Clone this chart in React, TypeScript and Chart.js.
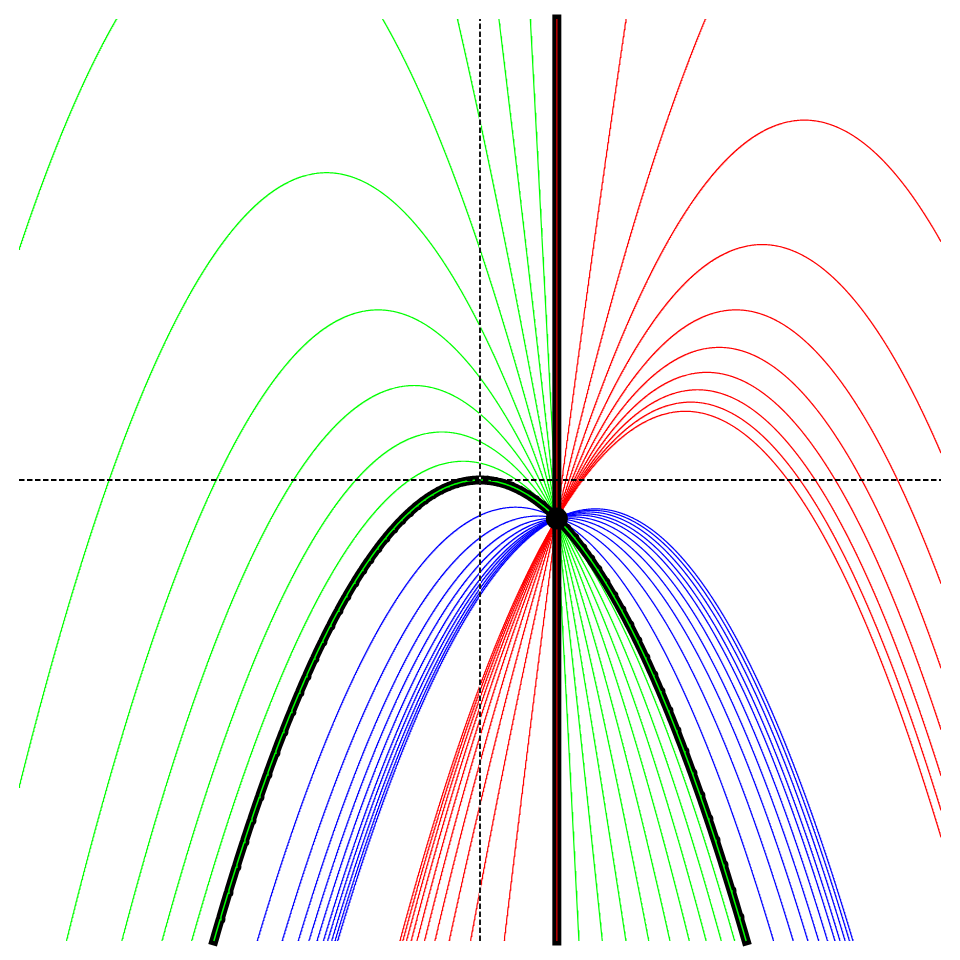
import React, { useEffect, useRef } from "react";
import { Chart, registerables } from "chart.js";

Chart.register(...registerables);

// Axis ranges
const X_RANGE = [-3, 3];
const Y_RANGE = [-3, 3];

// Common point through which every parabola passes
const POINT_X = [0.5];
const POINT_Y = [-0.25];

// Linear coefficient b of each parabola  y = -x^2 + b (x - 0.5)
const GREEN_B = [-18, -8, -4.67, -3, -2, -1.33, -0.86, -0.5, -0.22];
const BLUE_B = [0.46, 0.75, 0.95, 1.09, 1.2, 1.29, 1.35, 1.41, 1.46, 1.5];
const RED_B = [8.67, 5.33, 4.22, 3.67, 3.33, 3.11, 2.95, 2.83, 2.74, 2.67];
const HIGHLIGHT_B = [0];

const GREEN = "#00ff00";
const BLUE = "#0000ff";
const RED = "#ff0000";

function parabola(b: number, x: number) {
  const px = POINT_X[0];
  const py = POINT_Y[0];
  return -x * x + px * px + py + b * (x - px);
}

function sample(b: number, x0: number, x1: number, n: number) {
  const pts: { x: number; y: number }[] = [];
  for (let i = 0; i <= n; i++) {
    const x = x0 + ((x1 - x0) * i) / n;
    pts.push({ x, y: parabola(b, x) });
  }
  return pts;
}

export default function App() {
  const ref = useRef<HTMLCanvasElement | null>(null);

  useEffect(() => {
    if (!ref.current) return;
    const thin = (b: number, color: string) => ({
      data: sample(b, X_RANGE[0], X_RANGE[1], 1800),
      borderColor: color,
      borderWidth: 1.2,
      showLine: true,
      pointRadius: 0,
      tension: 0,
    });

    const drawOrder: any[] = [];
    GREEN_B.forEach((b) => drawOrder.push(thin(b, GREEN)));
    BLUE_B.forEach((b) => drawOrder.push(thin(b, BLUE)));
    RED_B.forEach((b) => drawOrder.push(thin(b, RED)));

    // highlighted parabola, limited to where it stays above the bottom of the frame
    HIGHLIGHT_B.forEach((b) => {
      const px = POINT_X[0];
      const c = px * px + POINT_Y[0] - b * px; // constant term
      const disc = Math.sqrt(b * b + 4 * (c - Y_RANGE[0]));
      const xa = (b - disc) / 2;
      const xb = (b + disc) / 2;
      const pts = sample(b, xa, xb, 600);
      drawOrder.push({
        data: pts,
        borderColor: "#000000",
        borderWidth: 9,
        borderCapStyle: "square",
        borderJoinStyle: "round",
        showLine: true,
        pointRadius: 0,
        clip: false,
      });
      drawOrder.push({
        data: pts,
        borderColor: GREEN,
        borderWidth: 1.5,
        showLine: true,
        pointRadius: 0,
        clip: false,
      });
    });

    // vertical limit line x = 0.5
    const vline = [
      { x: POINT_X[0], y: Y_RANGE[0] },
      { x: POINT_X[0], y: Y_RANGE[1] },
    ];
    drawOrder.push({
      data: vline,
      borderColor: "#000000",
      borderWidth: 9,
      borderCapStyle: "square",
      showLine: true,
      pointRadius: 0,
      clip: false,
    });
    drawOrder.push({
      data: vline,
      borderColor: "#c00000",
      borderWidth: 1.5,
      showLine: true,
      pointRadius: 0,
      clip: false,
    });

    // dashed axes
    const hAxis = [
      { x: X_RANGE[0], y: 0 },
      { x: X_RANGE[1], y: 0 },
    ];
    const vAxis = [
      { x: 0, y: Y_RANGE[0] },
      { x: 0, y: Y_RANGE[1] },
    ];
    drawOrder.push({
      data: vAxis,
      borderColor: "#ffffff",
      borderWidth: 1.8,
      showLine: true,
      pointRadius: 0,
    });
    [hAxis, vAxis].forEach((ax) => {
      drawOrder.push({
        data: ax,
        borderColor: "#000000",
        borderWidth: 1.8,
        borderDash: [5.5, 2.5],
        showLine: true,
        pointRadius: 0,
      });
    });

    // common point
    drawOrder.push({
      data: [{ x: POINT_X[0], y: POINT_Y[0] }],
      backgroundColor: "#000000",
      borderColor: "#000000",
      borderWidth: 0,
      pointRadius: 11,
      showLine: false,
      clip: false,
    });

    const datasets = drawOrder.slice().reverse();

    const chart = new Chart(ref.current, {
      type: "scatter",
      data: { datasets },
      options: {
        animation: false,
        responsive: false,
        events: [],
        layout: { padding: 11 },
        plugins: { legend: { display: false }, tooltip: { enabled: false } },
        scales: {
          x: { type: "linear", min: X_RANGE[0], max: X_RANGE[1], display: false },
          y: { type: "linear", min: Y_RANGE[0], max: Y_RANGE[1], display: false },
        },
      },
    });
    return () => chart.destroy();
  }, []);

  return (
    <div style={{ width: 944, height: 944 }}>
      <canvas ref={ref} width={944} height={944} style={{ display: "block" }} />
    </div>
  );
}
